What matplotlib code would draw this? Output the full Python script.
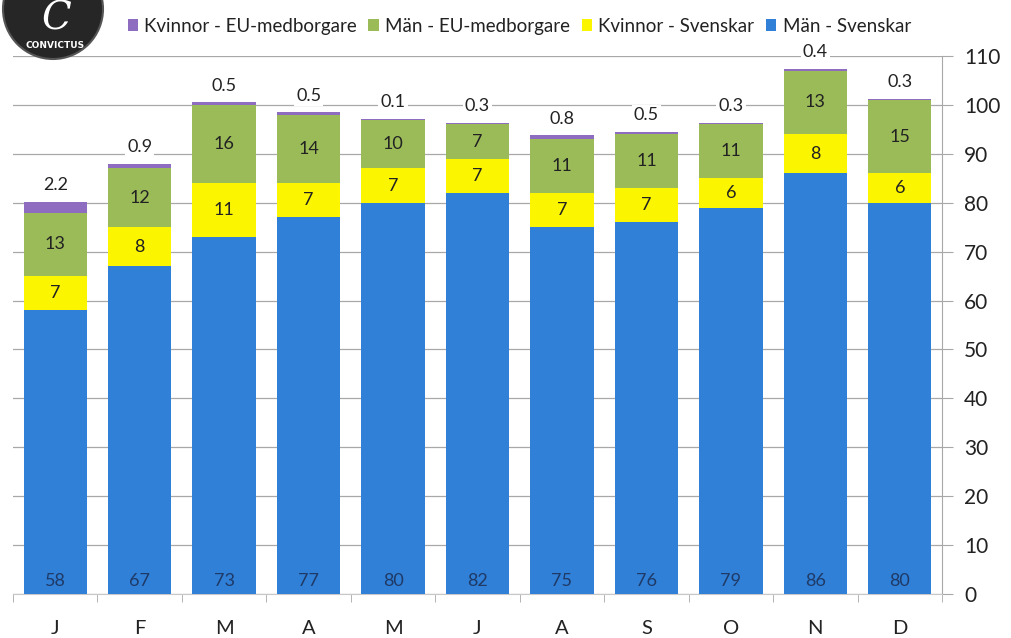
import matplotlib
matplotlib.use("Agg")
import matplotlib.pyplot as plt
from matplotlib.patches import Circle
import numpy as np

months = ["J", "F", "M", "A", "M", "J", "A", "S", "O", "N", "D"]
man_sv = [58, 67, 73, 77, 80, 82, 75, 76, 79, 86, 80]
kv_sv = [7, 8, 11, 7, 7, 7, 7, 7, 6, 8, 6]
man_eu = [13, 12, 16, 14, 10, 7, 11, 11, 11, 13, 15]
kv_eu = [2.2, 0.9, 0.5, 0.5, 0.1, 0.3, 0.8, 0.5, 0.3, 0.4, 0.3]
yticks = list(range(0, 111, 10))

c_blue = "#3080d8"
c_yellow = "#fbf500"
c_green = "#9bbb59"
c_purple = "#8e6cc0"
grid_c = "#a8a8a8"

plt.rcParams['font.family'] = ['Lato', 'DejaVu Sans']

fig = plt.figure(figsize=(10.12, 6.38), dpi=100)
ax = fig.add_axes([13/1012, 44/638, (942-13)/1012, (582-44)/638])

x = np.arange(len(months))
w = 0.75
b1 = np.array(man_sv, dtype=float)
b2 = b1 + np.array(kv_sv)
b3 = b2 + np.array(man_eu)

ax.bar(x, man_sv, w, color=c_blue, label="Män - Svenskar", zorder=3)
ax.bar(x, kv_sv, w, bottom=b1, color=c_yellow, label="Kvinnor - Svenskar", zorder=3)
ax.bar(x, man_eu, w, bottom=b2, color=c_green, label="Män - EU-medborgare", zorder=3)
ax.bar(x, kv_eu, w, bottom=b3, color=c_purple, label="Kvinnor - EU-medborgare", zorder=3)

fs = 13
for i in range(len(months)):
    ax.text(x[i], 2.6, f"{man_sv[i]}", ha="center", va="center", fontsize=fs,
            color="#1f3a66", zorder=4)
    ax.text(x[i], b1[i] + kv_sv[i] / 2, f"{kv_sv[i]}", ha="center", va="center",
            fontsize=fs, color="#222222", zorder=4)
    ax.text(x[i], b2[i] + man_eu[i] / 2, f"{man_eu[i]}", ha="center", va="center",
            fontsize=fs, color="#222222", zorder=4)
    top = b3[i] + kv_eu[i]
    ax.text(x[i], top + 3.4, f"{kv_eu[i]}", ha="center", va="center",
            fontsize=fs, color="#222222", zorder=4,
            bbox=dict(facecolor="white", edgecolor="none", pad=1.5))

ax.set_xlim(-0.5, len(months) - 0.5)
ax.set_ylim(0, 110)
ax.set_yticks(yticks)
ax.yaxis.tick_right()
ax.tick_params(axis="y", length=8, color=grid_c, labelsize=15, pad=8,
               labelcolor="#222222")
ax.set_xticks(x)
ax.set_xticklabels(months)
ax.tick_params(axis="x", which="major", length=0, labelsize=14.5, pad=19,
               labelcolor="#222222")
ax.set_xticks(np.arange(-0.5, len(months), 1.0), minor=True)
ax.tick_params(axis="x", which="minor", length=6, color=grid_c)

ax.grid(axis="y", color=grid_c, linewidth=0.9, zorder=0)
for s in ["top", "left"]:
    ax.spines[s].set_visible(False)
ax.spines["right"].set_color(grid_c)
ax.spines["bottom"].set_color("#c8c8c8")

handles, labels = ax.get_legend_handles_labels()
order = [3, 2, 1, 0]
fig.legend([handles[i] for i in order], [labels[i] for i in order],
           loc="center", bbox_to_anchor=(0.513, 0.959), ncol=4, frameon=False,
           fontsize=13.5, handlelength=0.55, handleheight=0.55, handletextpad=0.35,
           columnspacing=0.6, labelcolor="#222222")

# logo
lax = fig.add_axes([0, 0, 1, 1], zorder=5)
lax.set_xlim(0, 1012)
lax.set_ylim(638, 0)
lax.axis("off")
lax.add_patch(Circle((53, 9), 50, facecolor="#262626", edgecolor="#555555", lw=1.5))
lax.text(56, 19, "C", color="white", fontsize=28, ha="center", va="center",
         family="DejaVu Serif", style="italic")
lax.text(55, 45, "CONVICTUS", color="white", fontsize=6.5, ha="center", va="center",
         fontweight="bold", family="DejaVu Sans")

fig.savefig("out.png", dpi=100)
